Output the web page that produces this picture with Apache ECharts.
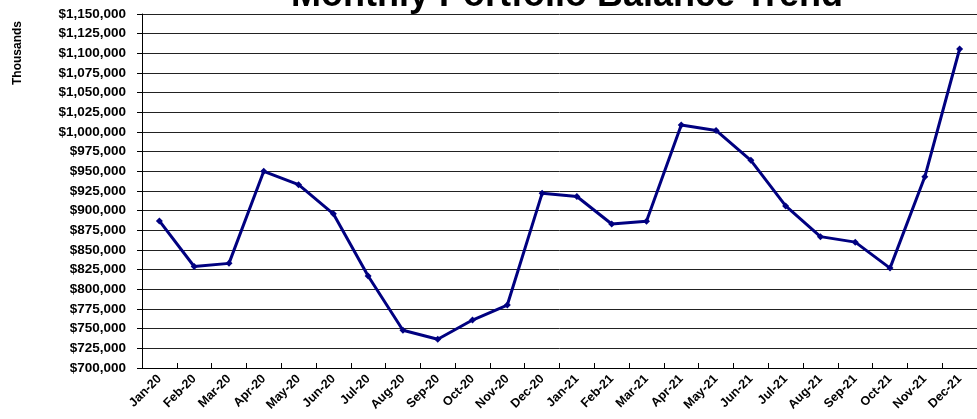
<!DOCTYPE html>
<html>
<head>
<meta charset="utf-8">
<script src="https://cdn.jsdelivr.net/npm/echarts@6/dist/echarts.min.js"></script>
<style>
  html, body { margin: 0; padding: 0; background: #fff; }
  #chart { width: 977px; height: 419px; }
</style>
</head>
<body>
<div id="chart"></div>
<script>
// Month labels along the x axis
const months = [
  'Jan-20', 'Feb-20', 'Mar-20', 'Apr-20', 'May-20', 'Jun-20',
  'Jul-20', 'Aug-20', 'Sep-20', 'Oct-20', 'Nov-20', 'Dec-20',
  'Jan-21', 'Feb-21', 'Mar-21', 'Apr-21', 'May-21', 'Jun-21',
  'Jul-21', 'Aug-21', 'Sep-21', 'Oct-21', 'Nov-21', 'Dec-21'
];

// Month-end portfolio balance
const balances = [
  887000, 829000, 833000, 950000, 933000, 896000,
  817000, 748000, 736500, 761000, 780000, 922000,
  918000, 883000, 886500, 1009000, 1002000, 964000,
  906000, 867000, 860000, 827000, 943000, 1105500
];

// Value axis range
const yMin = 700000;
const yMax = 1150000;
const yStep = 25000;

const FONT = '"Liberation Sans", Arial, sans-serif';

const chart = echarts.init(document.getElementById('chart'), null, { renderer: 'canvas' });

chart.setOption({
  animation: false,
  backgroundColor: '#ffffff',
  title: {
    text: 'Monthly Portfolio Balance Trend',
    left: 562,
    top: -27,
    textAlign: 'center',
    textStyle: {
      fontFamily: FONT,
      fontSize: 36,
      fontWeight: 'bold',
      color: '#000'
    }
  },
  graphic: [{
    type: 'text',
    x: 18,
    y: 53,
    rotation: Math.PI / 2,
    style: {
      text: 'Thousands',
      font: 'bold 12px ' + FONT,
      fill: '#000',
      align: 'center',
      verticalAlign: 'middle'
    }
  }],
  grid: {
    left: 142,
    right: 0,
    top: 14,
    bottom: 51,
    containLabel: false
  },
  xAxis: {
    type: 'category',
    data: months,
    boundaryGap: true,
    axisLine: { show: true, lineStyle: { color: '#000', width: 1 } },
    axisTick: { show: true, inside: true, length: 5, alignWithLabel: false, lineStyle: { color: '#000' } },
    axisLabel: {
      rotate: 45,
      interval: 0,
      margin: 9,
      fontFamily: FONT,
      fontSize: 12.5,
      fontWeight: 'bold',
      color: '#000'
    },
    splitLine: { show: false }
  },
  yAxis: {
    type: 'value',
    min: yMin,
    max: yMax,
    interval: yStep,
    axisLine: { show: true, lineStyle: { color: '#000', width: 1 } },
    axisTick: { show: true, length: 5, lineStyle: { color: '#000' } },
    axisLabel: {
      margin: 16,
      fontFamily: FONT,
      fontSize: 13.5,
      fontWeight: 'bold',
      color: '#000',
      formatter: v => '$' + v.toLocaleString('en-US')
    },
    splitLine: { show: true, lineStyle: { color: '#222', width: 1 } }
  },
  series: [{
    type: 'line',
    data: balances,
    symbol: 'diamond',
    symbolSize: 7,
    lineStyle: { color: '#000080', width: 3 },
    itemStyle: { color: '#000080' }
  }]
});
</script>
</body>
</html>
